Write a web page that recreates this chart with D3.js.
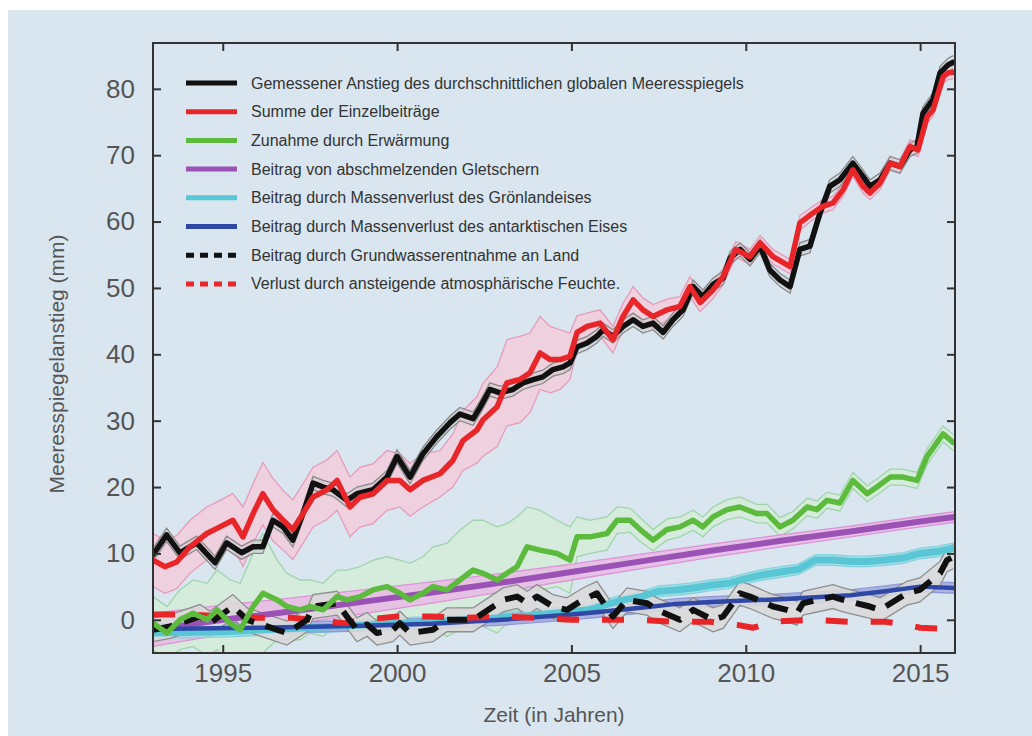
<!DOCTYPE html>
<html>
<head>
<meta charset="utf-8">
<script src="https://cdn.jsdelivr.net/npm/d3@7"></script>
<style>
body { margin: 0; background: #fff; }
text { font-family: "Liberation Sans", Arial, Helvetica, sans-serif; }
</style>
</head>
<body>
<div id="vis"></div>
<script>

// ---- data: [year, mm, +/- uncertainty] ----
var gmsl = [[1993.0,9.8,1],[1993.39,12.8,1],[1993.77,10.1,1],[1994.25,11.6,1],[1994.78,8.6,1],[1995.11,11.6,1],[1995.54,10.1,1],[1995.87,11,1],[1996.15,11,1],[1996.44,15,1],[1996.73,14,1],[1997.01,12,1],[1997.30,16,1],[1997.59,20.6,1],[1997.88,20,1],[1998.16,19.6,1],[1998.56,18,1],[1998.85,19,1],[1999.31,19.6,1],[1999.71,21.5,1],[2000.00,24.6,1],[2000.37,21.5,1],[2000.74,25,1],[2001.14,27.6,1],[2001.52,29.7,1],[2001.80,31,1],[2002.18,30.3,1],[2002.38,32,1],[2002.66,34.7,1],[2002.95,34.2,1],[2003.32,34.7,1],[2003.61,35.7,1],[2003.90,36.2,1],[2004.18,36.6,1],[2004.47,37.7,1],[2004.76,38.1,1],[2004.96,38.7,1],[2005.16,41.1,1],[2005.45,41.7,1],[2005.73,42.7,1],[2005.91,43.7,1],[2006.19,42.7,1],[2006.48,44.2,1],[2006.77,45.2,1],[2007.05,44.2,1],[2007.34,44.7,1],[2007.63,43.3,1],[2007.91,45.2,1],[2008.20,46.7,1],[2008.49,50.2,1],[2008.77,48.7,1],[2009.06,50.5,1],[2009.35,51.5,1],[2009.55,54.5,1],[2009.84,55.8,1],[2010.12,54.3,1],[2010.41,56.3,1],[2010.69,52.7,1],[2010.98,51.2,1],[2011.27,50.2,1],[2011.55,55.8,1],[2011.84,56.3,1],[2012.13,61.3,1],[2012.41,65.3,1],[2012.70,66.3,1],[2013.07,68.8,1],[2013.36,66.8,1],[2013.56,65.3,1],[2013.85,66.3,1],[2014.14,68.8,1],[2014.42,68.3,1],[2014.71,70.8,1],[2014.91,71.3,1],[2015.08,76.3,1],[2015.37,78.4,1],[2015.57,82.4,1],[2015.80,83.6,1],[2015.95,84,1]];

var sumContrib = [[1993.0,9,4],[1993.34,8,4],[1993.68,8.7,4],[1994.06,11,4],[1994.54,13,4],[1994.92,14,4],[1995.29,15,4],[1995.58,12.5,4.5],[1995.87,16,4.5],[1996.15,19,4.7],[1996.44,16.6,4.7],[1996.73,15,4.5],[1997.01,13.6,4.5],[1997.30,16,4.5],[1997.59,18.5,4.5],[1997.99,19.6,4.5],[1998.28,21,4.5],[1998.65,17,4.5],[1998.94,18.5,4.5],[1999.31,19,4.5],[1999.71,21,4.5],[2000.08,21,4],[2000.37,19.6,4],[2000.74,21,4],[2001.23,22,3.5],[2001.60,24,4],[2001.89,27,4.5],[2002.29,28.6,5],[2002.46,30.1,5.5],[2002.87,32.1,6],[2003.15,35.7,6.5],[2003.52,36.2,6.5],[2003.81,37.2,6],[2004.10,40.2,5.5],[2004.39,39.2,5],[2004.67,39.2,4.5],[2004.96,39.7,3.5],[2005.16,43.3,2.5],[2005.45,44.2,2],[2005.82,44.7,2],[2006.19,42.2,2],[2006.48,45.7,2],[2006.77,48.2,2],[2007.05,46.7,1.8],[2007.34,45.7,1.8],[2007.74,46.7,1.6],[2008.11,47.2,1.5],[2008.40,50.2,1.5],[2008.69,47.8,1.4],[2009.06,49.7,1.3],[2009.35,51.7,1.2],[2009.71,55.8,1.2],[2010.12,54.7,1.1],[2010.41,56.8,1.1],[2010.78,54.7,1.1],[2011.27,53.2,1.1],[2011.55,59.8,1.1],[2011.93,61.3,1],[2012.21,62.3,1],[2012.50,62.8,1],[2012.79,64.8,1],[2013.07,67.8,1],[2013.36,65.3,1],[2013.56,64.3,1],[2013.85,65.8,1],[2014.14,68.8,1],[2014.42,68.3,1],[2014.71,71.3,1],[2014.94,70.8,1],[2015.20,75.8,1],[2015.37,76.8,1],[2015.66,81.8,1],[2015.80,82.4,1],[2015.95,82.5,1]];

var thermal = [[1993.0,-0.5,4],[1993.40,-2,4],[1993.77,0,4.5],[1994.15,1,5],[1994.55,0,5.5],[1994.84,1.5,6],[1995.21,-0.5,6.5],[1995.50,-1.5,7],[1995.87,2,8],[1996.15,4,9],[1996.56,3,6],[1996.84,2,5],[1997.22,1.5,4.5],[1997.50,2,4],[1997.88,1.5,4],[1998.28,3.5,4],[1998.56,3,4.5],[1998.94,3.5,4.5],[1999.31,4.5,4.5],[1999.71,5,4.5],[2000.08,4,5],[2000.37,3,5.5],[2000.74,4,5.5],[2001.03,5,6],[2001.43,4.5,7],[2001.80,6,7.5],[2002.18,7.5,7.5],[2002.46,7,8],[2002.87,6,8],[2003.15,7,7.5],[2003.44,8,7.5],[2003.73,11,6],[2004.10,10.5,6],[2004.59,10,5],[2004.96,9,5],[2005.16,12.5,3],[2005.53,12.5,2.5],[2006.02,13,2.5],[2006.31,15,2],[2006.68,15,1.8],[2006.97,13.6,1.8],[2007.34,12,1.6],[2007.74,13.6,1.6],[2008.11,14,1.5],[2008.49,15,1.5],[2008.77,14,1.5],[2009.06,15.5,1.5],[2009.46,16.6,1.5],[2009.83,17,1.5],[2010.32,16,1.4],[2010.61,16,1.4],[2010.98,14,1.4],[2011.35,15,1.3],[2011.76,17,1.3],[2012.04,16.6,1.3],[2012.33,18,1.2],[2012.70,17.6,1.2],[2013.07,21,1.2],[2013.48,19,1.2],[2013.76,20,1.2],[2014.14,21.5,1.2],[2014.51,21.5,1.2],[2014.91,21,1.2],[2015.20,24.6,1.2],[2015.48,26.7,1.2],[2015.66,28,1.2],[2015.95,26.7,1.2]];

var glaciers = [[1993,-1.5,2.5],[1995,0,2.2],[1997,1.3,2],[1999,2.7,1.8],[2001,4.1,1.6],[2003,5.6,1.4],[2005,7.2,1.2],[2007,8.8,1.1],[2009,10.4,1],[2011,11.9,0.9],[2013,13.3,0.8],[2015,14.8,0.8],[2016,15.5,0.8]];

var greenland = [[1993,-2,0.8],[1995,-1.8,0.8],[1997,-1.3,0.8],[1999,-0.8,0.8],[2001,-0.3,0.8],[2003,0.3,0.8],[2004.5,1,0.8],[2005.5,1.5,0.8],[2006,2.3,0.8],[2006.5,3,0.8],[2007,3.5,0.8],[2007.5,4.3,0.8],[2008,4.5,0.8],[2008.5,4.8,0.8],[2009,5.2,0.8],[2009.5,5.5,0.8],[2010,6.2,0.8],[2010.5,6.8,0.8],[2011,7.2,0.8],[2011.5,7.6,0.8],[2012,9,0.8],[2012.5,9,0.8],[2013,8.8,0.8],[2013.5,8.8,0.8],[2014,9,0.8],[2014.5,9.3,0.8],[2015,10,0.8],[2015.5,10.3,0.8],[2016,10.8,0.8]];

var antarctic = [[1993,-1.4,0.8],[1996,-1.2,0.8],[1999,-0.9,0.8],[2001,-0.6,0.8],[2003,0,0.8],[2005,0.8,0.8],[2006,1.3,0.8],[2007,1.8,0.8],[2008,2.4,0.8],[2009,2.7,0.8],[2010,2.9,0.8],[2011,3.1,0.8],[2012,3.4,0.8],[2013,3.7,0.8],[2014,4.3,0.8],[2015,5,0.8],[2016,4.8,0.8]];

var groundwater = [[1993.0,-1.5,1.8],[1993.49,-1,1.8],[1994.35,0.5,1.8],[1994.63,-0.5,1.8],[1995.29,2,1.8],[1995.70,0,1.8],[1996.27,-1,1.8],[1996.84,-2,1.8],[1997.42,0,1.8],[1997.59,2,1.8],[1998.28,2.5,1.8],[1998.56,0.5,1.8],[1998.85,-1.5,1.8],[1999.14,-0.7,1.8],[1999.42,-2,1.8],[1999.88,-1.5,1.8],[2000.08,-0.5,1.8],[2000.37,-2,1.8],[2001.03,-1.5,1.8],[2001.43,0,1.8],[2002.18,0,1.8],[2003.04,3,1.8],[2003.44,3.5,1.8],[2003.73,2.5,1.8],[2004.01,3.5,1.8],[2004.47,2,1.8],[2004.87,1.5,1.8],[2005.33,3,1.8],[2005.73,4,1.8],[2006.19,0.5,1.8],[2006.59,3,1.8],[2007.17,2.5,1.8],[2007.45,1.5,1.8],[2008.11,0,1.8],[2008.49,1.5,1.8],[2009.06,0,1.8],[2009.35,0.5,1.8],[2009.83,4,1.8],[2010.12,3.5,1.8],[2010.78,2,1.8],[2011.18,1.5,1.8],[2011.47,1,1.8],[2011.64,2.5,1.8],[2012.50,3.5,1.8],[2012.79,3,1.8],[2013.56,2,1.8],[2013.85,1.5,1.8],[2014.62,4,1.8],[2014.99,4.5,1.8],[2015.57,7,1.8],[2015.77,9,1.8],[2015.95,9.5,1.8]];

var atmosphere = [[1993,0.8],[1994,0.8],[1995,0.5],[1996,0.3],[1997,0.3],[1997.5,0],[1998.5,-0.5],[1999,0],[2000,0.5],[2001,0.5],[2002,0.3],[2003,0.5],[2004,0.3],[2005,0],[2006,0],[2007,0],[2008,-0.3],[2009,-0.3],[2009.8,-0.8],[2010.2,-1.2],[2010.5,-0.8],[2011,-0.2],[2012,0],[2013,-0.3],[2014,-0.3],[2014.5,-0.6],[2015,-1.2],[2016,-1.4]];

var xTicks = [1995, 2000, 2005, 2010, 2015];
var yTicks = [0, 10, 20, 30, 40, 50, 60, 70, 80];

var legendLabels = [
    'Gemessener Anstieg des durchschnittlichen globalen Meeresspiegels',
    'Summe der Einzelbeiträge',
    'Zunahme durch Erwärmung',
    'Beitrag von abschmelzenden Gletschern',
    'Beitrag durch Massenverlust des Grönlandeises',
    'Beitrag durch Massenverlust des antarktischen Eises',
    'Beitrag durch Grundwasserentnahme an Land',
    'Verlust durch ansteigende atmosphärische Feuchte.'
];
var legendColors = ['#111111', '#e8262a', '#5cba3c', '#9a52b4', '#58c6d4', '#2f48a6', '#111111', '#e8262a'];
var legendDash = [null, null, null, null, null, null, '8,6', '8,6'];

// ---- layout ----
var width = 1032, height = 736;
var margin = {top: 43, right: 77, bottom: 83, left: 153};

var svg = d3.select('#vis')
    .append('svg')
    .attr('width', width)
    .attr('height', height);

svg.append('rect')
    .attr('x', 8).attr('y', 10)
    .attr('width', width - 8).attr('height', height - 10)
    .style('fill', '#d9e6ef');

var w = width - margin.left - margin.right;
var h = height - margin.top - margin.bottom;

var g = svg.append('g')
    .attr('transform', 'translate(' + margin.left + ',' + margin.top + ')');

var x = d3.scaleLinear().domain([1993, 2016]).range([0, w]);
var y = d3.scaleLinear().domain([-5, 86.9]).range([h, 0]);

svg.append('defs').append('clipPath').attr('id', 'clip')
    .append('rect').attr('width', w).attr('height', h);

var plot = g.append('g').attr('clip-path', 'url(#clip)');

var line = d3.line().x(function(d) { return x(d[0]); }).y(function(d) { return y(d[1]); });
var lineLo = d3.line().x(function(d) { return x(d[0]); }).y(function(d) { return y(d[1] - d[2]); });
var lineHi = d3.line().x(function(d) { return x(d[0]); }).y(function(d) { return y(d[1] + d[2]); });
var band = d3.area()
    .x(function(d) { return x(d[0]); })
    .y0(function(d) { return y(d[1] - d[2]); })
    .y1(function(d) { return y(d[1] + d[2]); });

function drawBand(data, fill, edge, op) {
    plot.append('path').datum(data).attr('d', band)
        .style('fill', fill).style('fill-opacity', op).style('stroke', 'none');
    [lineLo, lineHi].forEach(function(fn) {
        plot.append('path').datum(data).attr('d', fn)
            .style('fill', 'none').style('stroke', edge).style('stroke-width', 1.3);
    });
}

function drawLine(data, color, sw, dash) {
    plot.append('path').datum(data).attr('d', line)
        .style('fill', 'none').style('stroke', color)
        .style('stroke-width', sw)
        .style('stroke-linejoin', 'round')
        .style('stroke-linecap', dash ? 'butt' : 'round')
        .style('stroke-dasharray', dash);
}

// uncertainty bands
drawBand(thermal, '#d3ecd6', '#9fd5ab', 0.75);
drawBand(sumContrib, '#f4cbd9', '#e59bbc', 0.8);
drawBand(glaciers, '#eab6e6', '#dc94d6', 0.8);
drawBand(greenland, '#9fdde6', '#86d3de', 0.9);
drawBand(antarctic, '#a6acdf', '#8f98d8', 0.9);
drawBand(groundwater, '#d9d9d9', '#8e8e8e', 0.9);
drawBand(gmsl, '#c9c9c9', '#8a8a8a', 0.5);

// central lines
drawLine(glaciers, '#9a52b4', 6, null);
drawLine(greenland, '#58c6d4', 7, null);
drawLine(antarctic, '#2f48a6', 4.5, null);
drawLine(atmosphere, '#e8262a', 6, '22,23');
drawLine(groundwater, '#111111', 6, '20,12');
drawLine(thermal, '#5cba3c', 5.5, null);
drawLine(gmsl, '#111111', 5.5, null);
drawLine(sumContrib, '#e8262a', 5.5, null);

// ---- frame and axes ----
g.append('rect').attr('width', w).attr('height', h)
    .style('fill', 'none').style('stroke', '#333').style('stroke-width', 2);

g.append('g').attr('transform', 'translate(0,' + h + ')')
    .call(d3.axisBottom(x).tickValues(xTicks).tickSize(-8).tickPadding(11).tickFormat(d3.format('d')));
g.append('g')
    .call(d3.axisTop(x).tickValues(xTicks).tickSize(-8).tickFormat(''));
g.append('g')
    .call(d3.axisLeft(y).tickValues(yTicks).tickSize(-8).tickPadding(18));
g.append('g').attr('transform', 'translate(' + w + ',0)')
    .call(d3.axisRight(y).tickValues(yTicks).tickSize(-8).tickFormat(''));

g.selectAll('.domain').remove();
g.selectAll('.tick line').style('stroke', '#333').style('stroke-width', 2);
g.selectAll('.tick text')
    .style('font-size', '26px')
    .style('fill', '#555')
    .style('font-family', '"Liberation Sans", Arial, sans-serif');

svg.append('text')
    .text('Zeit (in Jahren)')
    .attr('x', margin.left + w / 2).attr('y', 722)
    .attr('text-anchor', 'middle')
    .style('font-size', '21px').style('fill', '#555');

svg.append('text')
    .text('Meeresspiegelanstieg (mm)')
    .attr('transform', 'translate(64,' + 364 + ')rotate(-90)')
    .attr('text-anchor', 'middle')
    .style('font-size', '21px').style('fill', '#555');

// ---- legend ----
var legend = g.append('g').attr('transform', 'translate(33,40)');
var rows = legend.selectAll('g').data(legendLabels).enter().append('g')
    .attr('transform', function(d, i) { return 'translate(0,' + (i * 28.7) + ')'; });

rows.append('line')
    .attr('x1', 0).attr('x2', 51).attr('y1', 0).attr('y2', 0)
    .style('stroke', function(d, i) { return legendColors[i]; })
    .style('stroke-width', 5)
    .style('stroke-dasharray', function(d, i) { return legendDash[i]; });

rows.append('text')
    .attr('x', 65).attr('y', 5.5)
    .text(function(d) { return d; })
    .style('font-size', '16px').style('fill', '#333');

</script>
</body>
</html>
